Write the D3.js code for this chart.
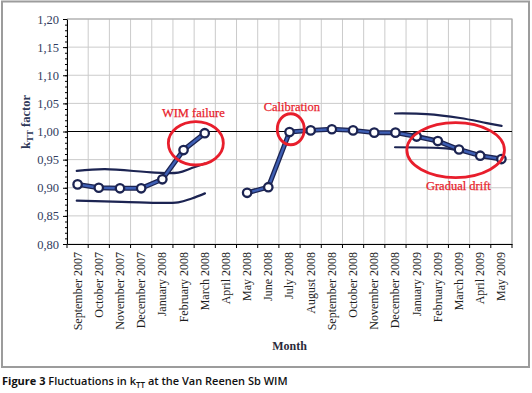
<!DOCTYPE html>
<html>
<head>
<meta charset="utf-8">
<script src="https://cdn.jsdelivr.net/npm/d3@7"></script>
<style>
  body { margin: 0; background: #fff; }
  svg { display: block; }
</style>
</head>
<body>
<div id="chart"></div>
<script>
//  Chart data
var months = ["September 2007", "October 2007", "November 2007", "December 2007",
  "January 2008", "February 2008", "March 2008", "April 2008", "May 2008", "June 2008",
  "July 2008", "August 2008", "September 2008", "October 2008", "November 2008",
  "December 2008", "January 2009", "February 2009", "March 2009", "April 2009", "May 2009"];

// k_TT per month (April 2008 missing)
var kttValues = [0.906, 0.900, 0.899, 0.899, 0.915, 0.967, 0.997, null, 0.891, 0.901,
  0.999, 1.002, 1.004, 1.002, 0.998, 0.998, 0.991, 0.983, 0.968, 0.957, 0.951];

var yTicks = [0.80, 0.85, 0.90, 0.95, 1.00, 1.05, 1.10, 1.15, 1.20];

// hand drawn trend lines: [month index, k_TT]
var trendUpperLeft  = [[-0.04, 0.930], [1.29, 0.933], [3.65, 0.927], [4.75, 0.927], [5.39, 0.935], [6.01, 0.943]];
var trendLowerLeft  = [[-0.04, 0.877], [2.08, 0.875], [4.75, 0.874], [5.39, 0.881], [6.01, 0.890]];
var trendUpperRight = [[14.98, 1.032], [16.48, 1.031], [18.05, 1.024], [19.31, 1.015], [20.01, 1.010]];
var trendLowerRight = [[14.98, 0.972], [17.39, 0.970], [18.00, 0.966], [18.99, 0.958], [19.98, 0.951]];

// annotations: label, ellipse centre (month index, k_TT), label anchor (month index, k_TT)
var noteLabels  = ["WIM failure", "Calibration", "Gradual drift"];
var noteCentres = [[5.58, 0.979], [10.06, 1.004], [17.84, 0.967]];
var noteAnchors = [[5.46, 1.025], [10.11, 1.036], [17.97, 0.896]];

// ---------------------------------------------------------------------------------- //

var width = 532;
var height = 393;
var margin = { left: 67, right: 20, top: 19, bottom: 149 };

var navy = "#1c2452";
var red = "#e81e2c";
var serif = "'Liberation Serif', 'DejaVu Serif', serif";

var svg = d3.select("#chart")
  .append("svg")
  .attr("width", width)
  .attr("height", height);

//  Scales
var x = d3.scaleBand()
  .domain(months)
  .range([margin.left, width - margin.right])
  .paddingInner(0).paddingOuter(0);

var bw = x.bandwidth();
function xi(i) { return margin.left + bw * (i + 0.5); }

var y = d3.scaleLinear()
  .domain([0.80, 1.20])
  .range([height - margin.bottom, margin.top]);

var plotL = margin.left, plotR = width - margin.right;
var plotT = margin.top, plotB = height - margin.bottom;

//  Outer frame
svg.append("rect")
  .attr("x", 2).attr("y", 1.5)
  .attr("width", 527).attr("height", 365.5)
  .style("fill", "none")
  .style("stroke", "#9c9c9c")
  .style("stroke-width", 2);

//  Grid
var gridX = months.map(function (m) { return x(m); }).concat([plotR]);
svg.append("g").selectAll("line")
  .data(gridX)
  .join("line")
  .attr("x1", function (d) { return d; }).attr("x2", function (d) { return d; })
  .attr("y1", plotT).attr("y2", plotB)
  .style("stroke", "#cbcbcb").style("stroke-width", 1);

svg.append("g").selectAll("line")
  .data(yTicks)
  .join("line")
  .attr("x1", plotL).attr("x2", plotR)
  .attr("y1", function (d) { return y(d); }).attr("y2", function (d) { return y(d); })
  .style("stroke", "#cbcbcb").style("stroke-width", 1);

// plot border top / right
svg.append("path")
  .attr("d", "M" + plotL + "," + y(1.2) + "H" + plotR + "V" + plotB)
  .style("fill", "none").style("stroke", "#a6a6a6").style("stroke-width", 1.2);

// reference line at 1,00
svg.append("line")
  .attr("x1", plotL).attr("x2", plotR)
  .attr("y1", y(1.0)).attr("y2", y(1.0))
  .style("stroke", "#000").style("stroke-width", 1);

//  Y axis
var fmt = function (d) { return d3.format(".2f")(d).replace(".", ","); };

svg.append("g")
  .attr("transform", "translate(" + plotL + ",0)")
  .call(d3.axisLeft(y).tickValues(d3.range(80, 121, 1).map(function (d) { return d / 100; }))
    .tickSize(2).tickFormat(""))
  .call(function (g) { g.select(".domain").remove(); });

var yAxis = svg.append("g")
  .attr("transform", "translate(" + plotL + ",0)")
  .call(d3.axisLeft(y).tickValues(yTicks).tickSize(4).tickPadding(4).tickFormat(fmt).tickSizeOuter(0));

yAxis.selectAll("text")
  .style("font-family", serif)
  .style("font-size", "12.5px")
  .style("fill", "#323c5e");

//  X axis
var xAxis = svg.append("g")
  .attr("transform", "translate(0," + plotB + ")")
  .call(d3.axisBottom(x).tickSize(0).tickSizeOuter(0));

xAxis.selectAll("text")
  .attr("transform", "rotate(-90)")
  .attr("x", -8)
  .attr("y", 0)
  .attr("dy", "0.33em")
  .style("text-anchor", "end")
  .style("font-family", serif)
  .style("font-size", "12px")
  .style("fill", "#1e1e1e");

svg.append("g").selectAll("line")
  .data(gridX)
  .join("line")
  .attr("x1", function (d) { return d; }).attr("x2", function (d) { return d; })
  .attr("y1", plotB).attr("y2", plotB + 4)
  .style("stroke", "#000");

svg.selectAll(".domain").style("stroke", "#000");

//  Axis titles
var yTitle = svg.append("text")
  .attr("transform", "translate(30,122) rotate(-90)")
  .style("text-anchor", "middle")
  .style("font-family", serif)
  .style("font-weight", "bold")
  .style("font-size", "12.5px")
  .style("fill", "#2e3858");
yTitle.append("tspan").text("k");
yTitle.append("tspan").attr("dy", 3).style("font-size", "9px").text("TT");
yTitle.append("tspan").attr("dy", -3).text(" factor");

svg.append("text")
  .attr("x", xi(10))
  .attr("y", 350)
  .style("text-anchor", "middle")
  .style("font-family", serif)
  .style("font-weight", "bold")
  .style("font-size", "12px")
  .style("fill", "#2a2a3a")
  .text("Month");

//  Trend lines (hand drawn)
var trendLine = d3.line()
  .x(function (d) { return xi(d[0]); })
  .y(function (d) { return y(d[1]); })
  .curve(d3.curveCatmullRom);

[trendUpperLeft, trendLowerLeft, trendUpperRight, trendLowerRight].forEach(function (t) {
  svg.append("path")
    .attr("d", trendLine(t))
    .style("fill", "none")
    .style("stroke", navy)
    .style("stroke-width", 2.2)
    .style("stroke-linecap", "round");
});

//  Data series
var series = kttValues.map(function (v, i) { return { i: i, v: v }; });

var dataLine = d3.line()
  .defined(function (d) { return d.v != null; })
  .x(function (d) { return xi(d.i); })
  .y(function (d) { return y(d.v); });

svg.append("path")
  .attr("d", dataLine(series))
  .style("fill", "none").style("stroke", navy).style("stroke-width", 5)
  .style("stroke-linejoin", "round");

svg.append("path")
  .attr("d", dataLine(series))
  .style("fill", "none").style("stroke", "#3e5fb4").style("stroke-width", 2.4)
  .style("stroke-linejoin", "round");

svg.append("g").selectAll("circle")
  .data(series.filter(function (d) { return d.v != null; }))
  .join("circle")
  .attr("cx", function (d) { return xi(d.i); })
  .attr("cy", function (d) { return y(d.v); })
  .attr("r", 4.2)
  .style("fill", "#fff")
  .style("stroke", navy)
  .style("stroke-width", 2.3);

//  Annotations
var radii = [[27.5, 21.7], [13.5, 15.5], [48.8, 27.5]];

noteCentres.forEach(function (c, k) {
  svg.append("ellipse")
    .attr("cx", xi(c[0]))
    .attr("cy", y(c[1]))
    .attr("rx", radii[k][0])
    .attr("ry", radii[k][1])
    .style("fill", "none")
    .style("stroke", red)
    .style("stroke-width", 2.8);

  svg.append("text")
    .attr("x", xi(noteAnchors[k][0]))
    .attr("y", y(noteAnchors[k][1]))
    .style("text-anchor", "middle")
    .style("font-family", serif)
    .style("font-size", "12.5px")
    .style("fill", red)
    .style("stroke", red)
    .style("stroke-width", 0.25)
    .text(noteLabels[k]);
});

//  Caption
var caption = svg.append("text")
  .attr("x", 2)
  .attr("y", 385)
  .style("font-family", "'Open Sans', 'Noto Sans', sans-serif")
  .style("font-size", "11px")
  .style("font-weight", "600")
  .style("fill", "#111");
caption.append("tspan").style("font-weight", "bold").text("Figure 3");
caption.append("tspan").text(" Fluctuations in k");
caption.append("tspan").attr("dy", 3).style("font-size", "8px").text("TT");
caption.append("tspan").attr("dy", -3).text(" at the Van Reenen Sb WIM");
</script>
</body>
</html>
